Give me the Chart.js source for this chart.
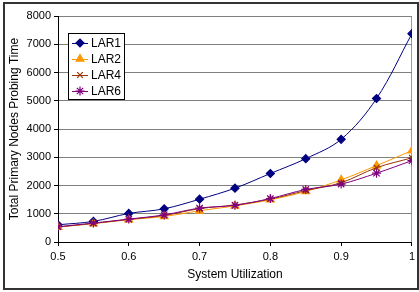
<!DOCTYPE html>
<html>
<head>
<meta charset="utf-8">
<script src="https://cdn.jsdelivr.net/npm/chart.js@4.4.0/dist/chart.umd.min.js"></script>
<style>
  body { margin: 0; background: #fff; }
  #wrap { position: relative; width: 419px; height: 292px; }
  #frame { position: absolute; left: 3px; top: 2px; width: 412px; height: 284px; border: 2px solid #333; pointer-events: none; }
</style>
</head>
<body>
<div id="wrap">
  <canvas id="chart" width="419" height="292"></canvas>
  <div id="frame"></div>
</div>
<script>
var utilization = [0.5, 0.55, 0.6, 0.65, 0.7, 0.75, 0.8, 0.85, 0.9, 0.95, 1.0];
var lar1 = [610, 730, 1010, 1175, 1515, 1905, 2425, 2950, 3635, 5080, 7375];
var lar2 = [530, 650, 790, 905, 1105, 1280, 1495, 1790, 2200, 2705, 3235];
var lar4 = [530, 660, 800, 940, 1180, 1310, 1520, 1820, 2100, 2630, 2980];
var lar6 = [540, 670, 810, 960, 1200, 1300, 1540, 1860, 2050, 2435, 2880];
var yTicks = [0, 1000, 2000, 3000, 4000, 5000, 6000, 7000, 8000];
var xTicks = [0.5, 0.6, 0.7, 0.8, 0.9, 1];

function pts(vals){
    var out=[];
    for (var i in vals){
        out.push({x:utilization[i], y:vals[i]});
    }
    return out;
}

function series(label, vals, color, style, radius, order){
    return {
        label:label,
        data:pts(vals),
        borderColor:color,
        backgroundColor:color,
        borderWidth:1,
        pointStyle:style,
        pointRadius:radius,
        pointBorderWidth:1.2,
        tension:0.35,
        fill:false,
        order:order
    };
}

// legend box drawn inside the plot, like the original
var boxLegend = {
    id:'boxLegend',
    afterDraw:function(chart){
        var c = chart.ctx;
        var x0 = 68, y0 = 33, w = 56, h = 66;
        c.save();
        c.fillStyle = '#fff';
        c.fillRect(x0, y0, w, h);
        c.strokeStyle = '#000';
        c.lineWidth = 1;
        c.strokeRect(x0 + 0.5, y0 + 0.5, w, h);
        c.font = '12px "Liberation Sans", Arial, sans-serif';
        c.textBaseline = 'middle';
        chart.data.datasets.forEach(function(ds, i){
            var y = y0 + 10 + i * 16;
            c.strokeStyle = ds.borderColor;
            c.fillStyle = ds.backgroundColor;
            c.lineWidth = 1;
            c.beginPath();
            c.moveTo(x0 + 4, y + 0.5);
            c.lineTo(x0 + 20, y + 0.5);
            c.stroke();
            c.lineWidth = 1.2;
            Chart.helpers.drawPoint(c, {pointStyle:ds.pointStyle, radius:ds.pointRadius, rotation:0, borderWidth:1.2}, x0 + 12, y);
            c.fillStyle = '#000';
            c.fillText(ds.label, x0 + 23, y + 1);
        });
        c.restore();
    }
};

var ctx = document.getElementById('chart');
var chart = new Chart(ctx, {
    type:'line',
    data:{
        datasets:[
            series('LAR1', lar1, '#000080', 'rectRot', 4, 4),
            series('LAR2', lar2, '#FF9900', 'triangle', 4.5, 3),
            series('LAR4', lar4, '#993300', 'crossRot', 4, 2),
            series('LAR6', lar6, '#800080', 'star', 4.5, 1)
        ]
    },
    options:{
        responsive:false,
        animation:false,
        events:[],
        layout:{padding:{top:16, right:6, left:0, bottom:0}},
        plugins:{legend:{display:false}, tooltip:{enabled:false}},
        scales:{
            x:{
                type:'linear',
                min:0.5,
                max:1,
                afterBuildTicks:function(axis){
                    axis.ticks = xTicks.map(function(v){ return {value:v}; });
                },
                afterFit:function(axis){ axis.height = 50; },
                grid:{
                    color:function(c){ return c.tick && c.tick.value === 1 ? '#999' : 'rgba(0,0,0,0)'; },
                    tickColor:'#000',
                    tickLength:4
                },
                border:{color:'#000'},
                ticks:{
                    color:'#000',
                    font:{family:'"Liberation Sans", Arial, sans-serif', size:11},
                    padding:4,
                    maxRotation:0,
                    callback:function(v){ return String(Number(v.toFixed(2))); }
                },
                title:{
                    display:true,
                    text:'System Utilization',
                    color:'#000',
                    font:{family:'"Liberation Sans", Arial, sans-serif', size:12},
                    padding:{top:2, bottom:10}
                }
            },
            y:{
                min:0,
                max:8000,
                afterBuildTicks:function(axis){
                    axis.ticks = yTicks.map(function(v){ return {value:v}; });
                },
                afterFit:function(axis){ axis.width = 58; },
                grid:{
                    color:function(c){ return c.tick && c.tick.value === 0 ? 'rgba(0,0,0,0)' : '#808080'; },
                    tickColor:'#000',
                    tickLength:4
                },
                border:{color:'#000'},
                ticks:{
                    color:'#000',
                    font:{family:'"Liberation Sans", Arial, sans-serif', size:11},
                    padding:3,
                    callback:function(v){ return String(v); }
                },
                title:{
                    display:true,
                    text:'Total Primary Nodes Probing Time',
                    color:'#000',
                    font:{family:'"Liberation Sans", Arial, sans-serif', size:12},
                    padding:{top:7, bottom:0}
                }
            }
        }
    },
    plugins:[boxLegend]
});
</script>
</body>
</html>
